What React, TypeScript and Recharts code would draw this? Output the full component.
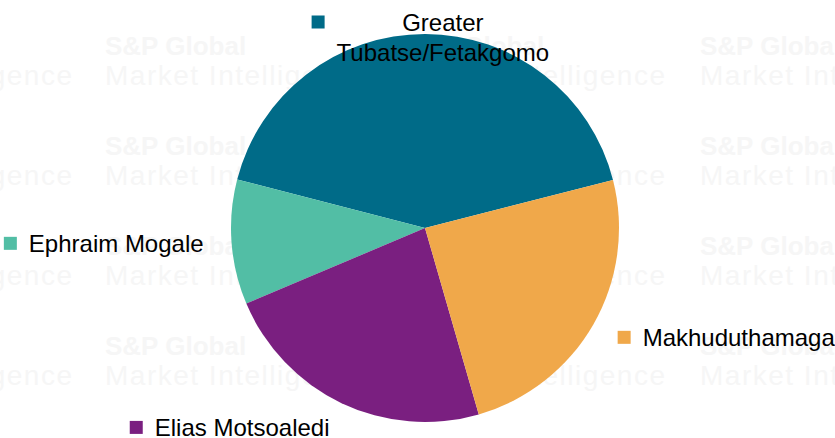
import React from "react";
import { PieChart, Pie, Cell } from "recharts";

const names = ["Greater Tubatse/Fetakgomo", "Ephraim Mogale", "Elias Motsoaledi", "Makhuduthamaga"];
const shares = [42.0, 10.4, 23.1, 24.5];
const colors = ["#006b88", "#52bea5", "#7a1f80", "#f0a84a"];

const data = names.map((name, i) => ({ name, value: shares[i] }));

const FONT = '"Liberation Sans", Arial, sans-serif';
const FONT_SIZE = 24;

let ctx: CanvasRenderingContext2D | null = null;
function measure(text: string): number {
  if (!ctx) {
    const c = document.createElement("canvas");
    ctx = c.getContext("2d");
  }
  if (!ctx) return text.length * FONT_SIZE * 0.55;
  ctx.font = `${FONT_SIZE}px ${FONT}`;
  return ctx.measureText(text).width;
}

function wrap(text: string, maxW: number): string[] {
  const words = text.split(" ");
  const lines: string[] = [];
  let cur = "";
  for (const w of words) {
    const t = cur ? cur + " " + w : w;
    if (cur && measure(t) > maxW) {
      lines.push(cur);
      cur = w;
    } else cur = t;
  }
  if (cur) lines.push(cur);
  return lines;
}

const RAD = Math.PI / 180;

const renderLabel = (props: any) => {
  const { cx, cy, midAngle, outerRadius, index } = props;
  const name = names[index];
  const r = outerRadius + 28;
  const cos = Math.cos(-midAngle * RAD);
  const sin = Math.sin(-midAngle * RAD);
  const x = cx + r * cos;
  const y = cy + r * sin;
  const lines = wrap(name, 215);
  const widths = lines.map(measure);
  const maxW = Math.max(...widths);
  const sq = 13;
  const gap = 12;
  const blockW = sq + gap + maxW;
  let left: number;
  if (cos > 0.3) left = x;
  else if (cos < -0.3) left = x - blockW;
  else left = x - blockW / 2 + 5;
  const lineH = 30;
  let firstCenter: number;
  if (sin < -0.9) firstCenter = cy - outerRadius - 12;
  else firstCenter = y - ((lines.length - 1) * lineH) / 2 - 1;
  const textCx = left + sq + gap + maxW / 2;
  return (
    <g key={`lbl-${index}`}>
      <rect x={left} y={firstCenter - sq / 2} width={sq} height={sq} fill={colors[index]} />
      {lines.map((ln, i) => (
        <text
          key={i}
          x={lines.length > 1 ? textCx : left + sq + gap}
          y={firstCenter + i * lineH}
          textAnchor={lines.length > 1 ? "middle" : "start"}
          dominantBaseline="central"
          fontFamily={FONT}
          fontSize={FONT_SIZE}
          fill="#000"
        >
          {ln}
        </text>
      ))}
    </g>
  );
};

const wmCols = [-190, 105, 403, 700];
const wmRows = [31, 131, 231, 331];

export default function App() {
  return (
    <div style={{ position: "absolute", left: 0, top: 0, width: 835, height: 438, background: "#fff", overflow: "hidden" }}>
      <div style={{ position: "absolute", left: 0, top: 0, width: 835, height: 438 }}>
        {wmRows.map((ty) =>
          wmCols.map((tx) => (
            <div key={`${tx}-${ty}`} style={{ position: "absolute", left: tx, top: ty, fontFamily: FONT, color: "#f6f6f6", whiteSpace: "nowrap", lineHeight: "30px" }}>
              <div style={{ fontSize: 26, fontWeight: "bold" }}>S&amp;P Global</div>
              <div style={{ fontSize: 28, letterSpacing: 1.5 }}>Market Intelligence</div>
            </div>
          ))
        )}
      </div>
      <div style={{ position: "absolute", left: 0, top: 0 }}>
        <PieChart width={835} height={438} margin={{ top: 0, right: 0, bottom: 0, left: 0 }}>
          <Pie
            data={data}
            dataKey="value"
            nameKey="name"
            cx={425}
            cy={228}
            outerRadius={194}
            startAngle={14.3}
            endAngle={374.3}
            stroke="none"
            label={renderLabel}
            labelLine={false}
            isAnimationActive={false}
          >
            {data.map((d, i) => (
              <Cell key={d.name} fill={colors[i]} />
            ))}
          </Pie>
        </PieChart>
      </div>
    </div>
  );
}
